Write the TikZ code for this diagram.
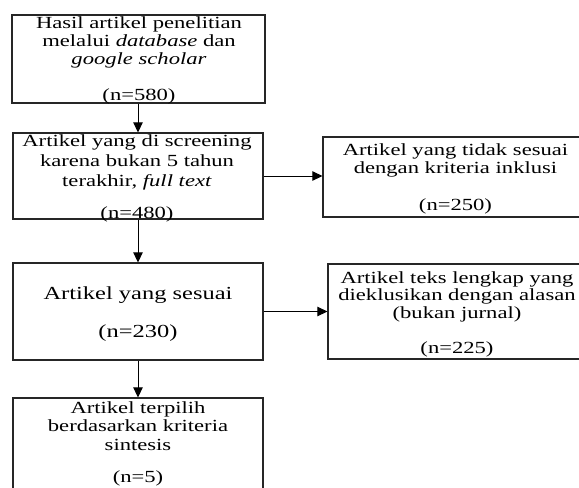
\documentclass[tikz,border=0pt]{standalone}
\usepackage{fontspec}
\setmainfont[FakeStretch=1.33]{Liberation Serif}
\usetikzlibrary{arrows.meta}
\begin{document}
\begin{tikzpicture}[x=0.75pt,y=-0.75pt,
  boxnode/.style={draw=black!85,line width=0.8pt,rectangle,inner sep=0pt},
  txt/.style={anchor=north,inner sep=0pt,align=center},
  arr/.style={draw=black,line width=0.75pt,-{Triangle[length=7.5pt,width=7pt]}}]
\useasboundingbox (0,0) rectangle (579,487);
\clip (0,0) rectangle (579,487);
% boxes
\node[boxnode,minimum width=253*0.75pt,minimum height=88*0.75pt] (b1) at (138.5,59) {};
\node[boxnode,minimum width=250*0.75pt,minimum height=86*0.75pt] (b2) at (138,176) {};
\node[boxnode,minimum width=265*0.75pt,minimum height=80*0.75pt] (b3) at (455.5,177) {};
\node[boxnode,minimum width=250*0.75pt,minimum height=97*0.75pt] (b4) at (138,311.5) {};
\node[boxnode,minimum width=258*0.75pt,minimum height=95*0.75pt] (b5) at (457,311.5) {};
\node[boxnode,minimum width=250*0.75pt,minimum height=102*0.75pt] (b6) at (138,449) {};
% texts
\node[txt,font={\fontsize{12.75pt}{13.5pt}\selectfont}] (t1) at (139,16.3)
  {Hasil artikel penelitian\\ melalui \textit{database} dan\\ \textit{google scholar}\\[13.5pt] (n=580)};
\node[txt,font={\fontsize{12.75pt}{15pt}\selectfont}] (t2) at (137,134.3)
  {Artikel yang di screening\\ karena bukan 5 tahun\\ terakhir, \textit{full text}\\[9pt] (n=480)};
\node[txt,font={\fontsize{12.75pt}{13.5pt}\selectfont}] (t3) at (455.5,143.3)
  {Artikel yang tidak sesuai\\ dengan kriteria inklusi\\[14.25pt] (n=250)};
\node[txt,font={\fontsize{13.8pt}{15pt}\selectfont}] (t4) at (138,286.3)
  {Artikel yang sesuai\\[13.5pt] (n=230)};
\node[txt,font={\fontsize{12.75pt}{13.1pt}\selectfont}] (t5) at (457,271.3)
  {Artikel teks lengkap yang\\ dieklusikan dengan alasan\\ (bukan jurnal)\\[13.1pt] (n=225)};
\node[txt,font={\fontsize{12.75pt}{13.9pt}\selectfont}] (t6) at (138,401.3)
  {Artikel terpilih\\ berdasarkan kriteria\\ sintesis\\[10pt] (n=5)};
% connectors
\draw[arr] (b2.north |- b1.south) -- (b2.north);
\draw[arr] (b2.east) -- (b3.west |- b2.east);
\draw[arr] (b2.south) -- (b4.north);
\draw[arr] (b4.east) -- (b5.west |- b4.east);
\draw[arr] (b4.south) -- (b6.north);
\end{tikzpicture}
\end{document}
